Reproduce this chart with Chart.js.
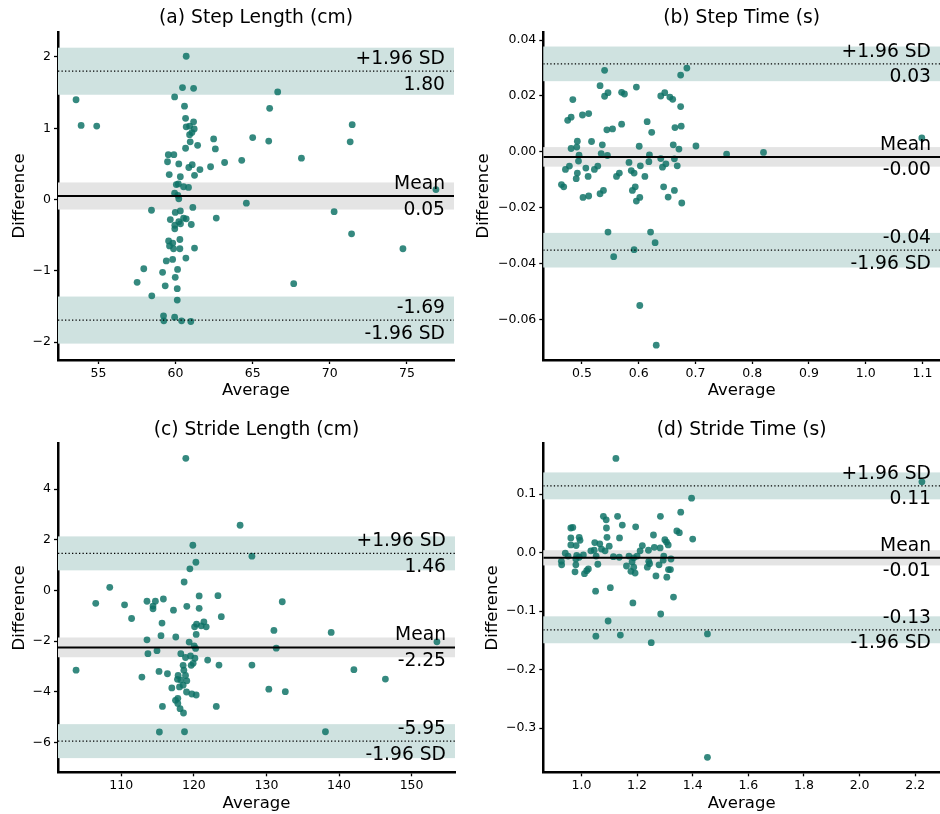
<!DOCTYPE html>
<html>
<head>
<meta charset="utf-8">
<script src="https://cdn.jsdelivr.net/npm/chart.js@4.4.1/dist/chart.umd.min.js"></script>
<style>
  html, body { margin: 0; padding: 0; background: #fff; }
  #wrap { position: relative; width: 940px; height: 814px; }
  #wrap canvas { position: absolute; }
</style>
</head>
<body>
<div id="wrap">
  <canvas id="stepLen" width="470" height="407" style="left:0;top:0"></canvas>
  <canvas id="stepTime" width="470" height="407" style="left:470px;top:0"></canvas>
  <canvas id="strideLen" width="470" height="407" style="left:0;top:407px"></canvas>
  <canvas id="strideTime" width="470" height="407" style="left:470px;top:407px"></canvas>
</div>
<script>
// ---- Step length (cm): average of the two methods vs. their difference ----
const stepLenAvg = [60.69, 60.45, 61.17, 53.55, 59.94, 60.58, 53.88, 54.89, 60.65, 61.17,
  60.69, 60.91, 61.21, 60.91, 61.06, 60.95, 60.65, 61.43, 62.47, 62.58,
  65.00, 59.53, 59.89, 59.48, 60.21, 61.08, 60.86, 61.58, 62.27, 63.18,
  64.29, 59.59, 60.31, 61.23, 60.05, 60.18, 60.52, 60.84, 59.94, 60.15,
  60.21, 64.59, 58.44, 59.98, 60.31, 61.12, 62.64, 59.66, 60.52, 60.69,
  60.21, 60.32, 59.95, 59.95, 61.02, 59.55, 59.82, 60.28, 59.61, 59.87,
  60.28, 61.23, 60.67, 59.40, 59.81, 57.94, 59.16, 60.13, 57.51, 59.33,
  59.98, 60.11, 58.46, 60.11, 59.22, 59.24, 59.94, 60.39, 60.99, 66.62,
  66.10, 71.45, 66.04, 71.32, 68.16, 76.88, 70.28, 71.41, 74.74, 67.66];
const stepLenDiff = [2.01, 1.57, 1.56, 1.40, 1.44, 1.31, 1.04, 1.03, 1.14, 1.09,
  1.02, 1.03, 0.99, 0.91, 0.94, 0.81, 0.72, 0.76, 0.85, 0.71,
  0.87, 0.63, 0.63, 0.53, 0.50, 0.49, 0.45, 0.42, 0.46, 0.52,
  0.55, 0.35, 0.32, 0.34, 0.21, 0.22, 0.18, 0.17, 0.09, 0.06,
  0.01, -0.05, -0.15, -0.18, -0.16, -0.11, -0.26, -0.28, -0.26, -0.27,
  -0.31, -0.34, -0.36, -0.41, -0.35, -0.58, -0.61, -0.56, -0.65, -0.69,
  -0.69, -0.68, -0.82, -0.86, -0.84, -0.97, -1.02, -0.98, -1.16, -1.21,
  -1.09, -1.25, -1.35, -1.41, -1.63, -1.70, -1.65, -1.70, -1.71, 1.51,
  1.28, 1.05, 0.82, 0.81, 0.58, 0.14, -0.17, -0.48, -0.69, -1.18];
const stepLenLimits = [1.80, 0.05, -1.69];      // +1.96 SD, mean, -1.96 SD
const stepLenBand = [0.33, 0.19];               // half-width of limit / mean bands
const stepLenXTicks = [55, 60, 65, 70, 75];
const stepLenYTicks = [-2, -1, 0, 1, 2];
const stepLenXRange = [52.38, 78.05];
const stepLenYRange = [-2.25, 2.35];

// ---- Step time (s) ----
const stepTimeAvg = [0.540, 0.532, 0.540, 0.546, 0.484, 0.475, 0.481, 0.501, 0.512, 0.544,
  0.554, 0.570, 0.575, 0.570, 0.596, 0.615, 0.623, 0.492, 0.517, 0.481,
  0.491, 0.536, 0.495, 0.494, 0.534, 0.545, 0.478, 0.471, 0.507, 0.492,
  0.511, 0.490, 0.522, 0.528, 0.464, 0.468, 0.502, 0.512, 0.532, 0.538,
  0.561, 0.566, 0.583, 0.587, 0.592, 0.603, 0.601, 0.619, 0.618, 0.611,
  0.594, 0.589, 0.602, 0.596, 0.639, 0.646, 0.655, 0.660, 0.674, 0.664,
  0.675, 0.661, 0.671, 0.701, 0.755, 0.639, 0.648, 0.642, 0.663, 0.668,
  0.644, 0.663, 0.652, 0.676, 0.674, 0.685, 0.546, 0.621, 0.629, 0.592,
  0.556, 0.602, 0.631, 0.820, 1.099];
const stepTimeDiff = [0.0292, 0.0237, 0.0199, 0.0212, 0.0187, 0.0113, 0.0124, 0.0132, 0.0137, 0.0079,
  0.0082, 0.0213, 0.0207, 0.0099, 0.0232, 0.0108, 0.0070, 0.0038, 0.0037, 0.0012,
  0.0017, 0.0025, -0.0012, -0.0033, -0.0006, -0.0013, -0.0051, -0.0063, -0.0058, -0.0076,
  -0.0088, -0.0096, -0.0063, -0.0051, -0.0117, -0.0125, -0.0163, -0.0158, -0.0150, -0.0138,
  -0.0088, -0.0076, -0.0038, -0.0067, -0.0076, -0.0050, 0.0020, -0.0011, -0.0035, -0.0088,
  -0.0125, -0.0138, -0.0163, -0.0176, 0.0200, 0.0212, 0.0196, 0.0188, 0.0162, 0.0087,
  0.0092, 0.0025, 0.0010, 0.0021, -0.0008, -0.0024, -0.0043, -0.0055, -0.0025, -0.0050,
  -0.0125, -0.0138, -0.0162, -0.0183, 0.0275, 0.0300, -0.0287, -0.0287, -0.0325, -0.0350,
  -0.0375, -0.0550, -0.0692, -0.0002, 0.0050];
const stepTimeLimits = [0.0315, -0.0018, -0.0352];
const stepTimeBand = [0.0062, 0.0035];
const stepTimeXTicks = [0.5, 0.6, 0.7, 0.8, 0.9, 1.0, 1.1];
const stepTimeYTicks = [-0.06, -0.04, -0.02, 0.00, 0.02, 0.04];
const stepTimeXRange = [0.432, 1.131];
const stepTimeYRange = [-0.0745, 0.0429];

// ---- Stride length (cm) ----
const strideLenAvg = [118.89, 126.37, 119.86, 120.28, 119.45, 118.66, 128.00, 108.41, 106.48, 110.45,
  111.42, 113.54, 114.70, 115.80, 114.37, 114.37, 117.19, 119.03, 120.73, 120.73,
  123.32, 123.78, 115.61, 120.37, 120.10, 121.01, 121.38, 121.70, 120.32, 115.47,
  117.51, 113.54, 119.35, 120.04, 120.24, 114.92, 113.67, 118.20, 118.85, 119.54,
  120.14, 121.90, 123.46, 119.90, 119.63, 118.52, 103.77, 115.20, 116.36, 118.62,
  112.84, 117.83, 118.85, 117.74, 118.20, 119.03, 118.02, 116.96, 118.52, 118.99,
  119.72, 120.32, 117.79, 117.47, 117.79, 118.10, 118.57, 115.67, 123.09, 115.25,
  118.71, 128.00, 132.18, 131.03, 138.92, 131.35, 153.49, 142.05, 146.39, 130.33,
  132.60, 138.13];
const strideLenDiff = [5.21, 2.57, 1.78, 1.11, 0.85, 0.33, 1.35, 0.12, -0.51, -0.57,
  -1.11, -0.43, -0.43, -0.34, -0.62, -0.73, -0.78, -0.63, -0.22, -0.71,
  -0.21, -1.04, -1.29, -1.33, -1.44, -1.40, -1.24, -1.44, -1.74, -1.79,
  -1.84, -1.95, -2.04, -2.19, -2.29, -2.38, -2.50, -2.50, -2.65, -2.59,
  -2.68, -2.75, -2.95, -2.88, -2.96, -2.96, -3.15, -3.20, -3.29, -3.15,
  -3.42, -3.36, -3.36, -3.51, -3.54, -3.57, -3.81, -3.85, -3.74, -4.01,
  -4.09, -4.13, -4.26, -4.34, -4.46, -4.67, -4.84, -4.58, -4.58, -5.59,
  -5.58, -2.95, -0.45, -1.58, -1.66, -2.28, -2.03, -3.13, -3.50, -3.90,
  -4.00, -5.58];
const strideLenLimits = [1.46, -2.25, -5.95];
const strideLenBand = [0.67, 0.39];
const strideLenXTicks = [110, 120, 130, 140, 150];
const strideLenYTicks = [-6, -4, -2, 0, 2, 4];
const strideLenXRange = [101.28, 155.98];
const strideLenYRange = [-7.18, 5.80];

// ---- Stride time (s) ----
const strideTimeAvg = [1.124, 1.396, 1.357, 1.079, 1.089, 1.130, 1.147, 1.090, 1.195, 1.284,
  0.962, 0.969, 0.962, 0.992, 0.995, 0.962, 0.981, 1.092, 1.137, 1.048,
  1.066, 1.100, 1.072, 1.085, 1.034, 1.046, 1.259, 1.343, 1.352, 1.400,
  1.300, 1.306, 1.312, 1.219, 1.262, 1.283, 1.241, 1.211, 0.942, 0.952,
  0.983, 1.007, 0.992, 0.980, 0.928, 0.929, 0.980, 1.053, 1.059, 1.115,
  1.136, 1.171, 1.188, 1.200, 1.182, 1.162, 1.188, 1.178, 1.193, 1.242,
  1.245, 1.237, 1.279, 1.296, 1.294, 1.322, 1.313, 1.320, 1.268, 1.307,
  0.977, 1.011, 1.019, 1.025, 1.104, 1.051, 1.331, 1.185, 1.285, 1.096,
  1.052, 1.140, 1.251, 1.453, 1.453, 2.224];
const strideTimeDiff = [0.161, 0.093, 0.069, 0.062, 0.056, 0.062, 0.047, 0.042, 0.044, 0.062,
  0.042, 0.043, 0.025, 0.026, 0.021, 0.013, 0.012, 0.026, 0.025, 0.017,
  0.015, 0.011, 0.006, 0.003, 0.003, 0.004, 0.030, 0.037, 0.034, 0.023,
  0.022, 0.018, 0.013, 0.012, 0.009, 0.008, 0.004, 0.003, -0.001, -0.006,
  -0.005, -0.004, -0.008, -0.011, -0.015, -0.021, -0.021, -0.006, -0.020, -0.007,
  -0.008, -0.006, -0.009, -0.006, -0.016, -0.023, -0.025, -0.032, -0.035, -0.015,
  -0.019, -0.025, -0.021, -0.006, -0.013, -0.011, -0.029, -0.029, -0.040, -0.042,
  -0.033, -0.036, -0.031, -0.028, -0.060, -0.066, -0.076, -0.086, -0.105, -0.117,
  -0.143, -0.141, -0.154, -0.139, -0.350, 0.121];
const strideTimeLimits = [0.114, -0.009, -0.132];
const strideTimeBand = [0.023, 0.013];
const strideTimeXTicks = [1.0, 1.2, 1.4, 1.6, 1.8, 2.0, 2.2];
const strideTimeYTicks = [-0.3, -0.2, -0.1, 0.0, 0.1];
const strideTimeXRange = [0.863, 2.289];
const strideTimeYRange = [-0.3756, 0.1866];

// ---- shared styling ----
const FONT = 'DejaVu Sans';
const DOT_COLOR = 'rgba(14, 114, 102, 0.84)';
const LIMIT_FILL = '#cfe2e0';
const MEAN_FILL = '#e4e4e4';

const toMinus = s => s.replace('-', '\u2212');

// Shaded confidence bands behind the data, plus the annotation text on top.
const agreementPlugin = {
  id: 'agreement',
  beforeDatasetsDraw(chart, args, opts) {
    const { ctx, chartArea: a, scales: { y } } = chart;
    const [upper, mean, lower] = opts.limits;
    const [hwLimit, hwMean] = opts.band;
    const band = (c, h, color) => {
      const top = y.getPixelForValue(c + h);
      const bot = y.getPixelForValue(c - h);
      ctx.fillStyle = color;
      ctx.fillRect(a.left, top, a.right - a.left, bot - top);
    };
    ctx.save();
    band(upper, hwLimit, LIMIT_FILL);
    band(lower, hwLimit, LIMIT_FILL);
    band(mean, hwMean, MEAN_FILL);
    ctx.restore();
  },
  afterDatasetsDraw(chart, args, opts) {
    const { ctx, chartArea: a, scales: { y } } = chart;
    const [upper, mean, lower] = opts.limits;
    const x = a.right - 9;
    ctx.save();
    ctx.font = '18.7px "' + FONT + '"';
    ctx.fillStyle = '#000';
    ctx.textAlign = 'right';
    ctx.textBaseline = 'alphabetic';
    const pair = (v, above, below) => {
      const py = y.getPixelForValue(v);
      ctx.fillText(above, x, py - 7);
      ctx.fillText(below, x, py + 18.5);
    };
    pair(upper, '+1.96 SD', upper.toFixed(2));
    pair(mean, 'Mean', mean.toFixed(2));
    pair(lower, lower.toFixed(2), '-1.96 SD');
    ctx.restore();
  }
};

function makePanel(id, cfg) {
  const points = cfg.avg.map((v, i) => ({ x: v, y: cfg.diff[i] }));
  const hline = v => [{ x: cfg.xRange[0], y: v }, { x: cfg.xRange[1], y: v }];
  const [upper, mean, lower] = cfg.limits;
  const lineDs = (v, width, dash) => ({
    type: 'scatter', data: hline(v), showLine: true, pointRadius: 0,
    borderColor: '#000', borderWidth: width, borderDash: dash, order: 0
  });
  const tickFont = { family: FONT, size: 12.5 };
  const axisTitleFont = { family: FONT, size: 16.5 };
  const gridCfg = { drawOnChartArea: false, drawTicks: true, tickLength: 4, tickColor: '#000', tickWidth: 1.3 };
  const borderCfg = { display: true, color: '#000', width: 2.5 };

  new Chart(document.getElementById(id), {
    type: 'scatter',
    data: {
      datasets: [
        lineDs(upper, 1.3, [1.3, 2.2]),
        lineDs(mean, 2, []),
        lineDs(lower, 1.3, [1.3, 2.2]),
        {
          data: points, pointRadius: 3.4, pointHoverRadius: 3.4,
          pointBackgroundColor: DOT_COLOR, pointBorderWidth: 0, order: 1
        }
      ]
    },
    options: {
      responsive: false,
      animation: false,
      devicePixelRatio: 1,
      layout: { autoPadding: false, padding: { left: 0, right: cfg.padRight, top: 0, bottom: 0 } },
      plugins: {
        legend: { display: false },
        tooltip: { enabled: false },
        title: {
          display: true, text: cfg.title, fullSize: false, color: '#000',
          font: { family: FONT, size: 18.7, weight: 'normal' },
          padding: { top: cfg.titlePad[0], bottom: cfg.titlePad[1] }
        },
        agreement: { limits: cfg.limits, band: cfg.band }
      },
      scales: {
        x: {
          type: 'linear', position: 'bottom', min: cfg.xRange[0], max: cfg.xRange[1],
          afterFit(s) { s.height = cfg.xAxisHeight; s.paddingLeft = 0; s.paddingRight = 0; },
          afterBuildTicks(s) { s.ticks = cfg.xTicks.map(v => ({ value: v })); },
          ticks: { font: tickFont, color: '#000', padding: 2,
            callback: v => toMinus(Number(v).toFixed(cfg.xDec)) },
          grid: gridCfg, border: borderCfg,
          title: { display: true, text: 'Average', font: axisTitleFont, color: '#000',
            padding: { top: 0, bottom: cfg.xTitlePad } }
        },
        y: {
          type: 'linear', position: 'left', min: cfg.yRange[0], max: cfg.yRange[1],
          afterFit(s) { s.width = cfg.yAxisWidth; s.paddingTop = 0; s.paddingBottom = 0; },
          afterBuildTicks(s) { s.ticks = cfg.yTicks.map(v => ({ value: v })); },
          ticks: { font: tickFont, color: '#000', padding: 3,
            callback: v => toMinus(Number(v).toFixed(cfg.yDec)) },
          grid: gridCfg, border: borderCfg,
          title: { display: true, text: 'Difference', font: axisTitleFont, color: '#000',
            padding: { top: cfg.yTitlePad, bottom: 0 } }
        }
      }
    },
    plugins: [agreementPlugin]
  });
}

makePanel('stepLen', {
  title: '(a) Step Length (cm)', avg: stepLenAvg, diff: stepLenDiff,
  limits: stepLenLimits, band: stepLenBand,
  xTicks: stepLenXTicks, yTicks: stepLenYTicks, xRange: stepLenXRange, yRange: stepLenYRange,
  xDec: 0, yDec: 0, padRight: 16, yAxisWidth: 58, yTitlePad: 10,
  xAxisHeight: 47, xTitlePad: 6.1, titlePad: [6.8, 2.76]
});
makePanel('stepTime', {
  title: '(b) Step Time (s)', avg: stepTimeAvg, diff: stepTimeDiff,
  limits: stepTimeLimits, band: stepTimeBand,
  xTicks: stepTimeXTicks, yTicks: stepTimeYTicks, xRange: stepTimeXRange, yRange: stepTimeYRange,
  xDec: 1, yDec: 2, padRight: 0, yAxisWidth: 73.3, yTitlePad: 4.1,
  xAxisHeight: 47, xTitlePad: 6.1, titlePad: [6.8, 2.76]
});
makePanel('strideLen', {
  title: '(c) Stride Length (cm)', avg: strideLenAvg, diff: strideLenDiff,
  limits: strideLenLimits, band: strideLenBand,
  xTicks: strideLenXTicks, yTicks: strideLenYTicks, xRange: strideLenXRange, yRange: strideLenYRange,
  xDec: 0, yDec: 0, padRight: 15, yAxisWidth: 58, yTitlePad: 10,
  xAxisHeight: 41.7, xTitlePad: 0.8, titlePad: [11.8, 2.16]
});
makePanel('strideTime', {
  title: '(d) Stride Time (s)', avg: strideTimeAvg, diff: strideTimeDiff,
  limits: strideTimeLimits, band: strideTimeBand,
  xTicks: strideTimeXTicks, yTicks: strideTimeYTicks, xRange: strideTimeXRange, yRange: strideTimeYRange,
  xDec: 1, yDec: 1, padRight: 0, yAxisWidth: 73.3, yTitlePad: 13.1,
  xAxisHeight: 41.7, xTitlePad: 0.8, titlePad: [11.8, 2.16]
});
</script>
</body>
</html>
